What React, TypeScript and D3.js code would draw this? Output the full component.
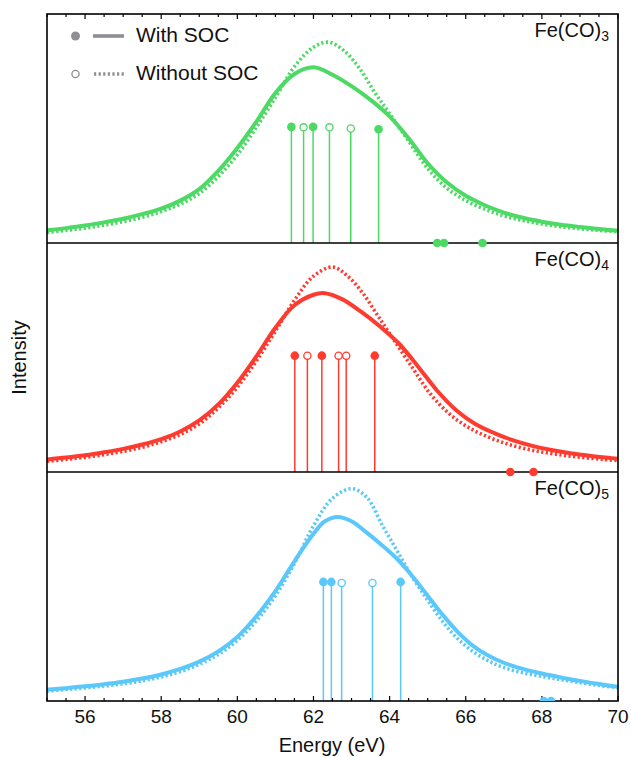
import React from 'react'
import * as d3 from 'd3'

// x axis
const energyTicks = [56, 58, 60, 62, 64, 66, 68, 70]
const minorStep = 0.5

// Fe(CO)3 broadened spectra [energy, intensity]
const fe3WithSoc: [number, number][] = [
  [55.0, 0.056], [55.5, 0.065], [56.0, 0.076], [56.5, 0.09], [57.0, 0.106], [57.5, 0.126],
  [58.0, 0.15], [58.5, 0.185], [59.0, 0.235], [59.5, 0.315], [60.0, 0.415], [60.5, 0.53],
  [61.0, 0.655], [61.5, 0.738], [62.0, 0.767], [62.5, 0.735], [63.0, 0.685], [63.5, 0.625],
  [64.0, 0.553], [64.5, 0.457], [65.0, 0.348], [65.5, 0.265], [66.0, 0.206], [66.5, 0.165],
  [67.0, 0.133], [67.5, 0.11], [68.0, 0.093], [68.5, 0.08], [69.0, 0.07], [69.5, 0.061], [70.0, 0.053],
]
const fe3NoSoc: [number, number][] = [
  [55.0, 0.046], [55.5, 0.055], [56.0, 0.065], [56.5, 0.078], [57.0, 0.093], [57.5, 0.112],
  [58.0, 0.137], [58.5, 0.17], [59.0, 0.216], [59.5, 0.29], [60.0, 0.385], [60.5, 0.505],
  [61.0, 0.635], [61.5, 0.77], [62.0, 0.855], [62.4, 0.877], [62.8, 0.84], [63.2, 0.765],
  [63.6, 0.66], [64.0, 0.565], [64.5, 0.445], [65.0, 0.325], [65.5, 0.24], [66.0, 0.185],
  [66.5, 0.148], [67.0, 0.118], [67.5, 0.098], [68.0, 0.083], [68.5, 0.071], [69.0, 0.062],
  [69.5, 0.055], [70.0, 0.05],
]
const fe3SticksSoc: [number, number][] = [[61.42, 0.507], [61.99, 0.507], [63.71, 0.497]]
const fe3SticksNoSoc: [number, number][] = [[61.74, 0.505], [62.42, 0.505], [62.98, 0.5]]
const fe3Dark = [65.25, 65.43, 66.44]

// Fe(CO)4
const fe4WithSoc: [number, number][] = [
  [55.0, 0.055], [55.5, 0.063], [56.0, 0.073], [56.5, 0.086], [57.0, 0.101], [57.5, 0.12],
  [58.0, 0.144], [58.5, 0.177], [59.0, 0.225], [59.5, 0.295], [60.0, 0.39], [60.5, 0.505],
  [61.0, 0.63], [61.5, 0.728], [62.0, 0.774], [62.3, 0.781], [62.75, 0.755], [63.25, 0.7],
  [63.75, 0.635], [64.25, 0.56], [64.75, 0.46], [65.25, 0.355], [65.75, 0.27], [66.25, 0.21],
  [66.75, 0.17], [67.25, 0.138], [67.75, 0.114], [68.25, 0.096], [68.75, 0.082], [69.25, 0.071],
  [69.75, 0.062], [70.0, 0.058],
]
const fe4NoSoc: [number, number][] = [
  [55.0, 0.047], [55.5, 0.055], [56.0, 0.064], [56.5, 0.076], [57.0, 0.09], [57.5, 0.108],
  [58.0, 0.132], [58.5, 0.164], [59.0, 0.21], [59.5, 0.28], [60.0, 0.37], [60.5, 0.485],
  [61.0, 0.615], [61.5, 0.75], [62.0, 0.855], [62.5, 0.895], [62.9, 0.855], [63.3, 0.78],
  [63.7, 0.68], [64.1, 0.58], [64.6, 0.455], [65.1, 0.335], [65.6, 0.25], [66.1, 0.192],
  [66.6, 0.152], [67.1, 0.122], [67.6, 0.1], [68.1, 0.085], [68.6, 0.072], [69.1, 0.063],
  [69.6, 0.055], [70.0, 0.05],
]
const fe4SticksSoc: [number, number][] = [[61.51, 0.508], [62.22, 0.508], [63.61, 0.508]]
const fe4SticksNoSoc: [number, number][] = [[61.84, 0.508], [62.66, 0.508], [62.86, 0.508]]
const fe4Dark = [67.17, 67.78]

// Fe(CO)5
const fe5WithSoc: [number, number][] = [
  [55.0, 0.05], [55.5, 0.056], [56.0, 0.064], [56.5, 0.073], [57.0, 0.084], [57.5, 0.098],
  [58.0, 0.116], [58.5, 0.14], [59.0, 0.172], [59.5, 0.217], [60.0, 0.28], [60.5, 0.37],
  [61.0, 0.48], [61.5, 0.61], [62.0, 0.73], [62.3, 0.785], [62.64, 0.804], [63.0, 0.785],
  [63.4, 0.735], [63.8, 0.68], [64.2, 0.62], [64.6, 0.545], [65.0, 0.46], [65.4, 0.375],
  [65.8, 0.3], [66.2, 0.24], [66.6, 0.198], [67.0, 0.167], [67.5, 0.14], [68.0, 0.12],
  [68.5, 0.103], [69.0, 0.088], [69.5, 0.074], [70.0, 0.062],
]
const fe5NoSoc: [number, number][] = [
  [55.0, 0.044], [55.5, 0.05], [56.0, 0.057], [56.5, 0.065], [57.0, 0.075], [57.5, 0.088],
  [58.0, 0.105], [58.5, 0.128], [59.0, 0.16], [59.5, 0.203], [60.0, 0.265], [60.5, 0.35],
  [61.0, 0.46], [61.5, 0.6], [62.0, 0.765], [62.5, 0.885], [63.0, 0.927], [63.4, 0.89],
  [63.8, 0.77], [64.2, 0.655], [64.6, 0.54], [65.0, 0.44], [65.4, 0.345], [65.8, 0.27],
  [66.2, 0.215], [66.6, 0.175], [67.0, 0.146], [67.5, 0.123], [68.0, 0.107], [68.5, 0.093],
  [69.0, 0.08], [69.5, 0.068], [70.0, 0.058],
]
const fe5SticksSoc: [number, number][] = [[62.26, 0.52], [62.47, 0.52], [64.29, 0.52]]
const fe5SticksNoSoc: [number, number][] = [[62.74, 0.515], [63.55, 0.515]]
const fe5Dark = [68.05, 68.24]

const panels = [
  { n: '3', color: '#4cd964', soc: fe3WithSoc, nosoc: fe3NoSoc, sSoc: fe3SticksSoc, sNo: fe3SticksNoSoc, dark: fe3Dark, clip: false },
  { n: '4', color: '#ff3b30', soc: fe4WithSoc, nosoc: fe4NoSoc, sSoc: fe4SticksSoc, sNo: fe4SticksNoSoc, dark: fe4Dark, clip: false },
  { n: '5', color: '#5ac8fa', soc: fe5WithSoc, nosoc: fe5NoSoc, sSoc: fe5SticksSoc, sNo: fe5SticksNoSoc, dark: fe5Dark, clip: true },
]

const W = 631
const H = 757
const left = 47
const right = 618
const top = 14
const panelH = 229
const font = '"Liberation Sans", Arial, sans-serif'
const legendGray = '#8e8e93'

const App = () => {
  const x = d3.scaleLinear().domain([55, 70]).range([left, right])
  const minor = d3.range(55, 70 + 1e-6, minorStep)
  const bottom = top + panelH * panels.length

  return (
    <svg width={W} height={H} style={{ position: 'absolute', left: 0, top: 0, background: '#fff' }}>
      <defs>
        {panels.map((p, i) => (
          <clipPath id={`clip${i}`} key={i}>
            <rect x={left} y={top + i * panelH} width={right - left} height={panelH} />
          </clipPath>
        ))}
      </defs>

      {panels.map((p, i) => {
        const y0 = top + i * panelH
        const y = d3.scaleLinear().domain([0, 1]).range([y0 + panelH, y0])
        const line = d3.line<[number, number]>()
          .x(d => x(d[0]))
          .y(d => y(d[1]))
          .curve(d3.curveCatmullRom.alpha(0.5))
        return (
          <g key={i}>
            <g clipPath={`url(#clip${i})`}>
              {p.sSoc.concat(p.sNo).map((s, j) => (
                <line key={j} x1={x(s[0])} x2={x(s[0])} y1={y(0)} y2={y(s[1])}
                  stroke={p.color} strokeWidth={1.5} />
              ))}
              {p.sSoc.map((s, j) => (
                <circle key={'f' + j} cx={x(s[0])} cy={y(s[1])} r={4.3} fill={p.color} />
              ))}
              {p.sNo.map((s, j) => (
                <circle key={'o' + j} cx={x(s[0])} cy={y(s[1])} r={3.6} fill="#fff"
                  stroke={p.color} strokeWidth={1.3} />
              ))}
              <path d={line(p.nosoc) || ''} fill="none" stroke={p.color} strokeWidth={3.6}
                strokeDasharray="2.2 2.4" />
              <path d={line(p.soc) || ''} fill="none" stroke={p.color} strokeWidth={4} />
            </g>
            <text x={609} y={y0 + 23} textAnchor="end" fontFamily={font} fontSize={20} fill="#111">
              Fe(CO)<tspan fontSize={14} dy={4}>{p.n}</tspan>
            </text>
          </g>
        )
      })}

      {/* frame */}
      <rect x={left} y={top} width={right - left} height={bottom - top} fill="none"
        stroke="#000" strokeWidth={1.6} />
      {panels.slice(1).map((p, i) => (
        <line key={i} x1={left} x2={right} y1={top + (i + 1) * panelH} y2={top + (i + 1) * panelH}
          stroke="#000" strokeWidth={1.6} />
      ))}

      {/* ticks, top and bottom, pointing in */}
      {minor.map((v, i) => {
        const major = energyTicks.includes(v)
        const len = major ? 5 : 3
        return (
          <g key={i} stroke="#000" strokeWidth={1.2}>
            <line x1={x(v)} x2={x(v)} y1={bottom} y2={bottom - len} />
            <line x1={x(v)} x2={x(v)} y1={top} y2={top + len} />
          </g>
        )
      })}
      {energyTicks.map(v => (
        <text key={v} x={x(v)} y={723} textAnchor="middle" fontFamily={font} fontSize={19} fill="#111">
          {v}
        </text>
      ))}

      {/* zero-intensity states on the baseline */}
      {panels.map((p, i) => {
        const yb = top + (i + 1) * panelH
        return (
          <g key={i} clipPath={p.clip ? `url(#clip${i})` : undefined}>
            {p.dark.map((e, j) => (
              <circle key={j} cx={x(e)} cy={yb} r={4.3} fill={p.color} />
            ))}
          </g>
        )
      })}

      <text x={332} y={752} textAnchor="middle" fontFamily={font} fontSize={20} fill="#111">
        Energy (eV)
      </text>
      <text transform={`translate(26, ${(top + bottom) / 2}) rotate(-90)`} textAnchor="middle"
        fontFamily={font} fontSize={20} fill="#111">
        Intensity
      </text>

      {/* legend */}
      <circle cx={75.5} cy={36} r={4.5} fill={legendGray} />
      <line x1={93} x2={124} y1={36} y2={36} stroke={legendGray} strokeWidth={3.6} />
      <text x={136} y={42} fontFamily={font} fontSize={21} fill="#111">With SOC</text>
      <circle cx={75.5} cy={74} r={3.6} fill="#fff" stroke={legendGray} strokeWidth={1.3} />
      <line x1={94} x2={124} y1={74} y2={74} stroke={legendGray} strokeWidth={3.6}
        strokeDasharray="2.2 2.4" />
      <text x={136} y={80} fontFamily={font} fontSize={21} fill="#111">Without SOC</text>
    </svg>
  )
}

export default App
